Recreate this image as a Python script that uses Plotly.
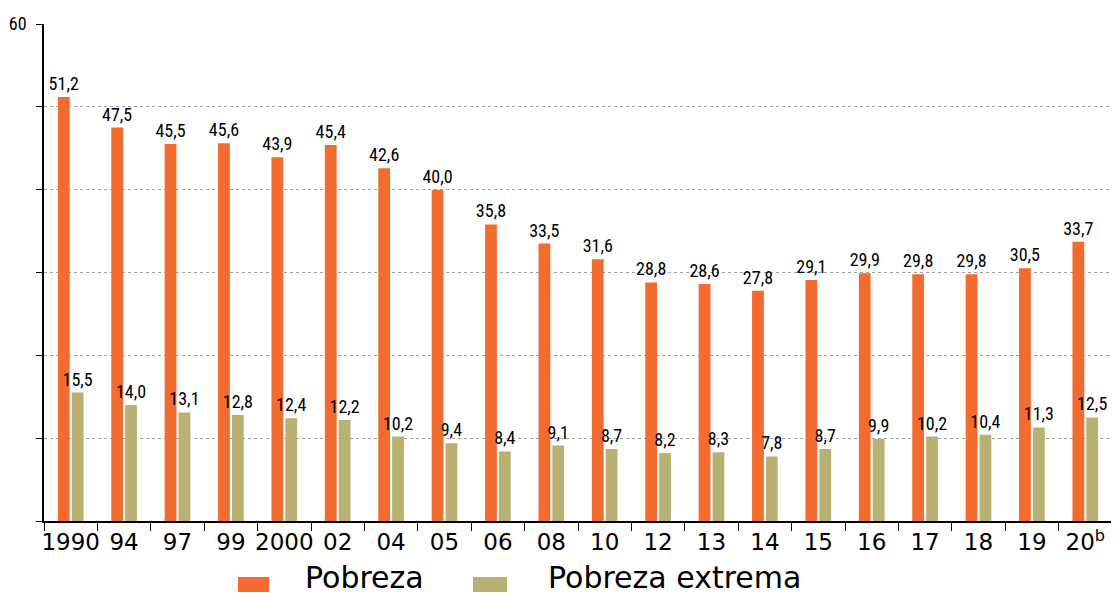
import plotly.graph_objects as go

years = ["1990", "94", "97", "99", "2000", "02", "04", "05", "06", "08",
         "10", "12", "13", "14", "15", "16", "17", "18", "19", "20<sup>b</sup>"]
pobreza = [51.2, 47.5, 45.5, 45.6, 43.9, 45.4, 42.6, 40.0, 35.8, 33.5,
           31.6, 28.8, 28.6, 27.8, 29.1, 29.9, 29.8, 29.8, 30.5, 33.7]
extrema = [15.5, 14.0, 13.1, 12.8, 12.4, 12.2, 10.2, 9.4, 8.4, 9.1,
           8.7, 8.2, 8.3, 7.8, 8.7, 9.9, 10.2, 10.4, 11.3, 12.5]
series_names = ["Pobreza", "Pobreza extrema"]
colors = ["#F26B2F", "#B7B273"]
y_labeled_ticks = [60]
y_minor_ticks = [0, 10, 20, 30, 40, 50]

# page has an 8px body margin: size the figure so it fills the window
OFF = 8
W, H = 1119 - OFF, 597 - OFF
# plot area in page pixels: x 44..1112, y 24..521
PX0, PX1, PY0, PY1 = 44, 1112, 24, 521
L, T = PX0 - OFF, PY0 - OFF
R, B = W - (PX1 - OFF), H - (PY1 - OFF)
pw, ph = W - L - R, H - T - B

label_font = dict(family="Liberation Sans Narrow, Roboto Condensed, Roboto, sans-serif", size=18, color="#000")

fig = go.Figure()
for name, vals, col in zip(series_names, [pobreza, extrema], colors):
    fig.add_trace(go.Bar(
        x=years, y=vals, name=name, marker=dict(color=col, line=dict(width=0)),
        texttemplate="%{y:.1f}", textposition="outside", constraintext="none",
        textfont=label_font, cliponaxis=False, showlegend=False,
    ))

def px_x(X):
    return (X - PX0) / pw

def px_y(Y):
    return (PY1 - Y) / ph

shapes = []
annotations = []
legend_items = [(238, 269, 303), (473, 507, 546)]
for (x0, x1, tx), name, col in zip(legend_items, series_names, colors):
    shapes.append(dict(type="rect", xref="paper", yref="paper",
                       x0=px_x(x0), x1=px_x(x1), y0=px_y(592), y1=px_y(577),
                       fillcolor=col, line=dict(width=0)))
    annotations.append(dict(xref="paper", yref="paper", x=px_x(tx), y=px_y(596.5),
                            xanchor="left", yanchor="bottom", showarrow=False,
                            text=name, font=dict(family="DejaVu Sans", size=30, color="#000")))

grid_style = dict(showgrid=True, gridcolor="#A0A0A0", griddash="dot", gridwidth=1)

fig.update_layout(
    width=W, height=H, margin=dict(l=L, r=R, t=T, b=B, autoexpand=False),
    paper_bgcolor="white", plot_bgcolor="white",
    separators=",.",
    barmode="group", bargap=0.48, bargroupgap=0.15,
    shapes=shapes, annotations=annotations, showlegend=False,
    xaxis=dict(type="category", tickson="boundaries", ticks="outside", ticklen=8,
               tickcolor="#000", showline=True, linecolor="#000", linewidth=1.5,
               showgrid=False, tickangle=0, automargin=False,
               tickfont=dict(family="DejaVu Sans", size=23, color="#000"),
               fixedrange=True),
    yaxis=dict(range=[0, 60], tickmode="array", tickvals=y_labeled_ticks, ticks="outside",
               ticklen=6, tickcolor="#000", showline=True, linecolor="#000", linewidth=1.5,
               zeroline=False, ticklabelstandoff=6, automargin=False,
               minor=dict(tickmode="array", tickvals=y_minor_ticks, ticks="outside",
                          ticklen=6, tickcolor="#000", **grid_style),
               tickfont=dict(family="Liberation Sans Narrow, Roboto Condensed, Roboto, sans-serif", size=18, color="#000"),
               **grid_style),
)

fig.write_html("out.html")
